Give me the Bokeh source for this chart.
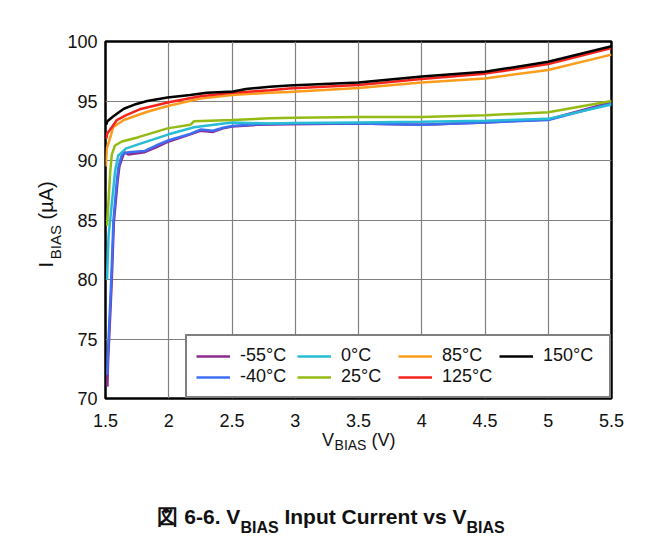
import math
from bokeh.plotting import figure
from bokeh.models import Range1d, FixedTicker, Legend, LegendItem, LinearAxis
from bokeh.embed import file_html
from bokeh.resources import INLINE

# ---------------- data ----------------
labels = ["-55°C", "-40°C", "0°C", "25°C", "85°C", "125°C", "150°C"]
colors = ["#8e2a8e", "#3d6ff2", "#27bcd6", "#94bb14", "#fa9c1c", "#f4241c", "#000000"]

v_m55 = [1.515, 1.52, 1.548, 1.566, 1.595, 1.61, 1.635, 1.65, 1.68, 1.81, 1.90, 2.0, 2.17, 2.25, 2.35, 2.43, 2.5, 2.7, 2.95, 3.5, 4.0, 4.5, 5.0, 5.5]
i_m55 = [71.0, 73.0, 79.5, 84.8, 88.2, 89.5, 90.3, 90.7, 90.5, 90.7, 91.1, 91.6, 92.2, 92.5, 92.4, 92.7, 92.85, 93.0, 93.05, 93.1, 93.0, 93.2, 93.45, 94.9]

v_m40 = [1.515, 1.518, 1.545, 1.563, 1.59, 1.603, 1.63, 1.68, 1.81, 1.90, 2.0, 2.17, 2.25, 2.35, 2.43, 2.5, 2.7, 2.95, 3.5, 4.0, 4.5, 5.0, 5.5]
i_m40 = [72.0, 73.5, 79.9, 85.0, 88.3, 89.5, 90.5, 90.7, 90.8, 91.26, 91.7, 92.24, 92.6, 92.5, 92.75, 92.9, 93.05, 93.1, 93.1, 93.0, 93.2, 93.4, 94.8]

v_0 = [1.512, 1.524, 1.55, 1.577, 1.60, 1.66, 1.77, 2.0, 2.2, 2.5, 2.8, 3.0, 3.5, 4.0, 4.5, 5.0, 5.5]
i_0 = [80.0, 83.6, 86.4, 89.2, 90.4, 91.0, 91.4, 92.2, 92.8, 93.2, 93.1, 93.15, 93.2, 93.25, 93.35, 93.5, 94.7]

v_25 = [1.512, 1.524, 1.537, 1.55, 1.575, 1.63, 1.76, 1.99, 2.17, 2.2, 2.5, 2.8, 3.0, 3.5, 4.0, 4.5, 5.0, 5.5]
i_25 = [84.5, 86.6, 89.0, 90.5, 91.26, 91.6, 91.96, 92.7, 93.0, 93.3, 93.4, 93.55, 93.6, 93.65, 93.65, 93.8, 94.05, 95.0]

v_85 = [1.503, 1.51, 1.545, 1.56, 1.645, 1.83, 2.0, 2.25, 2.5, 2.8, 2.95, 3.5, 4.0, 4.5, 5.0, 5.5]
i_85 = [89.5, 91.0, 92.2, 92.8, 93.4, 94.1, 94.6, 95.2, 95.5, 95.7, 95.75, 96.1, 96.55, 96.9, 97.6, 98.9]

v_125 = [1.505, 1.515, 1.55, 1.59, 1.66, 1.77, 2.0, 2.25, 2.5, 2.8, 2.95, 3.5, 4.0, 4.5, 5.0, 5.5]
i_125 = [91.8, 92.3, 92.8, 93.4, 93.8, 94.3, 94.9, 95.4, 95.7, 95.9, 96.05, 96.35, 96.85, 97.3, 98.1, 99.45]

v_150 = [1.505, 1.515, 1.56, 1.645, 1.73, 1.83, 1.99, 2.17, 2.30, 2.51, 2.61, 2.80, 2.95, 3.5, 4.0, 4.5, 5.0, 5.5]
i_150 = [93.0, 93.3, 93.7, 94.35, 94.7, 95.0, 95.3, 95.5, 95.7, 95.8, 96.0, 96.2, 96.3, 96.55, 97.05, 97.45, 98.3, 99.6]

x_ticks = [1.5, 2, 2.5, 3, 3.5, 4, 4.5, 5, 5.5]
x_tick_labels = ["1.5", "2", "2.5", "3", "3.5", "4", "4.5", "5", "5.5"]
y_ticks = [70, 75, 80, 85, 90, 95, 100]
y_tick_labels = ["70", "75", "80", "85", "90", "95", "100"]

series_v = [v_m55, v_m40, v_0, v_25, v_85, v_125, v_150]
series_i = [i_m55, i_m40, i_0, i_25, i_85, i_125, i_150]

# ---------------- layout ----------------
FONT = "Liberation Sans"
X0, X1, Y0, Y1 = 1.5, 5.5, 70, 100
FL, FT, FW, FH = 105, 41, 506, 357   # frame position inside the canvas (px)
W, H = 664, 539

p = figure(width=W, height=H, output_backend="svg", toolbar_location=None, title=None,
           x_range=Range1d(X0, X1), y_range=Range1d(Y0, Y1),
           min_border_left=FL, min_border_right=W - FL - FW,
           min_border_top=FT, min_border_bottom=H - FT - FH)
p.background_fill_color = "white"
p.border_fill_color = "white"
p.outline_line_color = "black"
p.outline_line_width = 2.5


def style_axis(ax, size, standoff, bold=False):
    ax.axis_line_color = None
    ax.major_tick_line_color = None
    ax.minor_tick_line_color = None
    ax.major_tick_out = 0
    ax.major_tick_in = 0
    ax.minor_tick_out = 0
    ax.minor_tick_in = 0
    ax.major_label_text_font = FONT
    ax.major_label_text_font_size = size
    ax.major_label_text_font_style = "bold" if bold else "normal"
    ax.major_label_text_color = "#111111"
    ax.major_label_standoff = standoff


p.xaxis.ticker = FixedTicker(ticks=x_ticks)
p.yaxis.ticker = FixedTicker(ticks=y_ticks)
p.xaxis.major_label_overrides = dict(zip(x_ticks, x_tick_labels))
p.yaxis.major_label_overrides = dict(zip(y_ticks, y_tick_labels))
style_axis(p.xaxis[0], "18px", 15)
style_axis(p.yaxis[0], "18px", 8)

p.grid.grid_line_color = "#808080"
p.grid.grid_line_width = 1.2

renderers = []
for v, i, c in zip(series_v, series_i, colors):
    r = p.line(v, i, line_color=c, line_width=2.5)
    renderers.append(r)

legend = Legend(items=[LegendItem(label=l, renderers=[r]) for l, r in zip(labels, renderers)],
                location="bottom_right", orientation="vertical", nrows=2,
                margin=0, padding=9, spacing=0,
                glyph_width=34, glyph_height=18, label_height=18, label_width=57,
                label_standoff=10,
                label_text_font=FONT, label_text_font_size="18px", label_text_color="#111111",
                border_line_color="black", border_line_width=2.5,
                background_fill_color="white", background_fill_alpha=1.0)
p.add_layout(legend)


# ---------------- titles as text of extra (line-less) axes ----------------
def px_to_x(px):
    return X0 + (px - FL) * (X1 - X0) / FW


def py_to_y(py):
    return Y1 - (py - FT) * (Y1 - Y0) / FH


def text_axis(side, ticks, texts, size, standoff, bold=False, rotate=False):
    ax = LinearAxis(ticker=FixedTicker(ticks=ticks))
    ax.major_label_overrides = dict(zip(ticks, texts))
    style_axis(ax, size, standoff, bold)
    if rotate:
        ax.major_label_orientation = math.pi / 2
    p.add_layout(ax, side)
    return ax


# x-axis title: V_BIAS (V)   (ticks at the centre of each piece)
text_axis("below", [px_to_x(327.5), px_to_x(383.0)], ["V", "(V)"], "18px", 0)
text_axis("below", [px_to_x(350.0)], ["BIAS"], "14px", -16)
# caption: main text, then subscripts
text_axis("below", [px_to_x(198.4), px_to_x(374.9)], ["図 6-6. V", "Input Current vs V"], "21px", 49, bold=True)
text_axis("below", [px_to_x(259.0), px_to_x(485.0)], ["BIAS", "BIAS"], "16px", -12, bold=True)

# y-axis title: I_BIAS (µA)   (rotated labels hang below their tick: ticks at the upper end)
text_axis("left", [py_to_y(224.6)], ["BIAS"], "15px", 9, rotate=True)
text_axis("left", [py_to_y(261.4), py_to_y(180.8)], ["I", "(µA)"], "20px", -11, rotate=True)

open("out.html", "w").write(file_html(p, INLINE))
